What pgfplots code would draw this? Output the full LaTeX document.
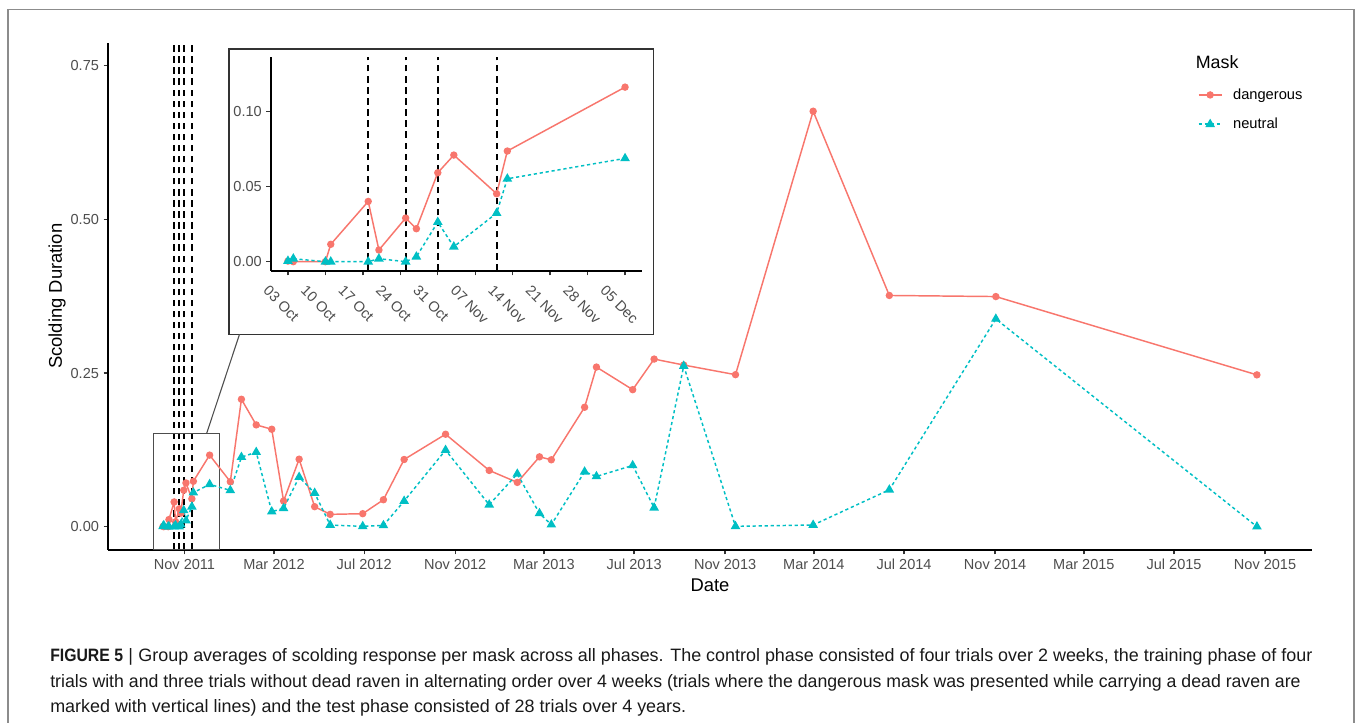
\documentclass[border=0pt]{standalone}
\usepackage{fontspec}
\setmainfont{Liberation Sans}
\usepackage{pgfplots}
\usepackage{pgfplotstable}
\pgfplotsset{compat=1.18}
\definecolor{dang}{HTML}{F8766D}
\definecolor{neut}{HTML}{00BFC4}
\definecolor{gthirty}{HTML}{4D4D4D}
\definecolor{gtwenty}{HTML}{333333}

% days since 2011-10-01
\pgfplotstableread{
d v
2 0.0004
3 0.0
9 0.0
10 0.0116
17 0.0402
19 0.0078
24 0.0291
26 0.0220
30 0.0593
33 0.0711
41 0.0453
43 0.0738
65 0.1164
93 0.0731
108 0.2073
128 0.1656
149 0.1585
165 0.0417
186 0.1098
207 0.0325
228 0.0200
272 0.0211
300 0.0438
328 0.1093
384 0.1504
443 0.0915
481 0.0720
511 0.1136
527 0.1088
572 0.1943
588 0.2597
637 0.2229
666 0.2727
706 0.2630
776 0.2473
881 0.6760
984 0.3762
1128 0.3744
1481 0.2470
}\dangtab

\pgfplotstableread{
d v
2 0.0005
3 0.0020
9 0.0
10 0.0
17 0.0
19 0.0020
24 0.0
26 0.0033
30 0.0264
33 0.0100
41 0.0324
43 0.0553
65 0.0689
93 0.0590
108 0.1131
128 0.1212
149 0.0244
165 0.0298
186 0.0806
207 0.0547
228 0.0027
272 0.0005
300 0.0020
328 0.0417
384 0.1245
443 0.0357
481 0.0858
511 0.0216
527 0.0032
572 0.0893
588 0.0817
637 0.0996
666 0.0308
706 0.2614
776 0.0005
881 0.0027
984 0.0600
1128 0.3380
1481 0.0
}\neuttab

\tikzset{vline/.style={black, line width=1.3pt, dash pattern=on 4.8pt off 3.5pt}}
\pgfplotsset{
  ggstyle/.style={
    scale only axis,
    axis lines=left,
    axis line style={-, line width=1.3pt, black},
    tick align=outside,
    major tick length=3.5pt,
    tick style={line width=1pt, gtwenty},
    ticklabel style={font=\fontsize{10.9}{12}\selectfont, text=gthirty},
    clip=true,
  },
  dangplot/.style={dang, line width=1.1pt, mark=*, mark size=2.2pt, mark options={solid}},
  neutplot/.style={neut, line width=1.1pt, dash pattern=on 2.4pt off 2.1pt, mark=triangle*, mark size=3.1pt, mark options={solid}},
}

\begin{document}
\begin{tikzpicture}
\begin{scope}[x=0.75pt,y=-0.75pt]
\useasboundingbox (0,0) rectangle (1356,723);
\coordinate (mainSW) at (108.3,549.7);
\coordinate (insetSW) at (271.1,270.7);
\draw[color=black!45, line width=0.8pt] (8,723) -- (8,9.5) -- (1354,9.5) -- (1354,723);
\end{scope}

\begin{axis}[
  ggstyle,
  at={(mainSW)}, anchor=south west,
  width=902.5pt, height=380.25pt,
  xmin=-72, xmax=1555, ymin=-0.0375, ymax=0.7875,
  xtick={31,152,274,397,517,639,762,882,1004,1127,1247,1369,1492},
  xticklabels={Nov 2011,Mar 2012,Jul 2012,Nov 2012,Mar 2013,Jul 2013,Nov 2013,Mar 2014,Jul 2014,Nov 2014,Mar 2015,Jul 2015,Nov 2015},
  ytick={0,0.25,0.5,0.75},
  yticklabels={0.00,0.25,0.50,0.75},
  xlabel={Date}, ylabel={Scolding Duration},
  xlabel style={at={(axis description cs:0.5,-0.0696)}, anchor=center, font=\fontsize{13.8}{16}\selectfont},
  ylabel style={at={(axis description cs:-0.0426,0.5)}, anchor=center, font=\fontsize{13.8}{16}\selectfont},
  legend style={at={(0.9053,0.9152)}, anchor=north west, draw=none, fill=none, inner sep=0pt,
    font=\fontsize{11}{13}\selectfont, row sep=8.5pt, cells={anchor=west},
    /tikz/every odd column/.append style={column sep=6pt}},
  legend image code/.code={\draw[mark repeat=2,mark phase=2] plot coordinates {(0pt,0pt) (8.6pt,0pt) (17.25pt,0pt)};},
]
\draw[vline] (17,-0.0375) -- (17,0.7875);
\draw[vline] (24,-0.0375) -- (24,0.7875);
\draw[vline] (30,-0.0375) -- (30,0.7875);
\draw[vline] (41,-0.0375) -- (41,0.7875);
\draw[gthirty, line width=0.8pt] (-11,-0.0375) rectangle (78.3,0.152);
\addplot[dangplot] table[x=d,y=v] {\dangtab};
\addlegendentry{dangerous}
\addplot[neutplot] table[x=d,y=v] {\neuttab};
\addlegendentry{neutral}
\end{axis}

\begin{scope}[x=0.75pt,y=-0.75pt]
\node[anchor=west, inner sep=0pt, font=\fontsize{13.4}{15}\selectfont] at (1195.5,61.7) {Mask};
% inset frame
\fill[white] (229,49) rectangle (653.4,334.3);
\draw[gtwenty, line width=0.9pt] (229,49) rectangle (653.4,334.3);
\draw[gthirty, line width=0.8pt] (206.7,433.3) -- (239.5,334.3);
\end{scope}

\begin{axis}[
  ggstyle,
  at={(insetSW)}, anchor=south west,
  width=278.1pt, height=160.5pt,
  xmin=-1.15, xmax=68.15, ymin=-0.006, ymax=0.1367,
  xtick={2,9,16,23,30,37,44,51,58,65},
  xticklabels={03 Oct,10 Oct,17 Oct,24 Oct,31 Oct,07 Nov,14 Nov,21 Nov,28 Nov,05 Dec},
  xticklabel style={rotate=-45, anchor=north west, xshift=-8.25pt, yshift=-11pt},
  ytick={0,0.05,0.1},
  yticklabels={0.00,0.05,0.10},
  restrict x to domain=0:66,
]
\draw[vline] (17,-0.006) -- (17,0.1367);
\draw[vline] (24,-0.006) -- (24,0.1367);
\draw[vline] (30,-0.006) -- (30,0.1367);
\draw[vline] (41,-0.006) -- (41,0.1367);
\addplot[dangplot] table[x=d,y=v] {\dangtab};
\addplot[neutplot] table[x=d,y=v] {\neuttab};
\end{axis}

% caption
\begin{scope}[x=0.75pt,y=-0.75pt, every node/.style={anchor=base west, inner sep=0pt, font=\fontsize{13.45}{15}\selectfont, text=black!90}]
\node at (50,661.7) {\scalebox{0.88}[1]{\textbf{FIGURE 5}}\hspace{0.3em}|\hspace{0.3em}Group averages of scolding response per mask across all phases. The control phase consisted of four trials over 2 weeks, the training phase of four};
\node at (50,687) {\scalebox{0.987}[1]{trials with and three trials without dead raven in alternating order over 4 weeks (trials where the dangerous mask was presented while carrying a dead raven are}};
\node at (50,712) {marked with vertical lines) and the test phase consisted of 28 trials over 4 years.};
\end{scope}
\end{tikzpicture}
\end{document}
